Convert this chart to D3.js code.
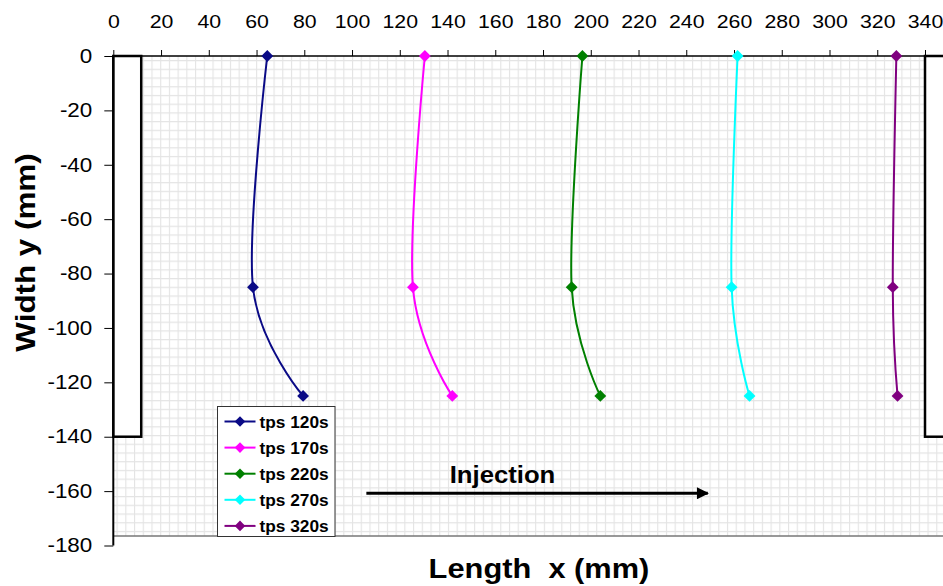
<!DOCTYPE html>
<html>
<head>
<meta charset="utf-8">
<script src="https://cdn.jsdelivr.net/npm/d3@7"></script>
<style>
  body { margin: 0; background: #fff; }
  text { font-family: Arial, "Liberation Sans", sans-serif; }
</style>
</head>
<body>
<svg id="chart" width="943" height="586"></svg>
<script>
// width positions (y, mm) shared by all curves
const widthY = [0, -85, -125];
// length positions (x, mm) of the front, one list per time
const front120 = [64.5, 58.5, 79.5];
const front170 = [130.5, 125.5, 142];
const front220 = [196.5, 192, 204];
const front270 = [261.5, 259, 266.5];
const front320 = [328, 326.5, 328.5];
const seriesNames = ["tps 120s", "tps 170s", "tps 220s", "tps 270s", "tps 320s"];
const seriesColors = ["#0a0a86", "#ff00ff", "#008000", "#00ffff", "#800080"];
const xTicks = [0, 20, 40, 60, 80, 100, 120, 140, 160, 180, 200, 220, 240, 260, 280, 300, 320, 340];
const yTicks = [0, -20, -40, -60, -80, -100, -120, -140, -160, -180];
// mould walls (x0, x1, y0, y1) and the injection arrow
const leftWall = [0, 11.7, 0, -140];
const rightWall = [340, 360, 0, -140];
const arrowX = [106, 249];
const arrowY = -160.8;

const fronts = [front120, front170, front220, front270, front320];

const svg = d3.select("#chart");

const x = d3.scaleLinear().domain([0, 340]).range([113.3, 925]);
const y = d3.scaleLinear().domain([0, -180]).range([56, 545.5]);

// the original text is a bit wider than Arial, stretch it
function stretch(sel, k) {
  sel.each(function() {
    const len = this.getComputedTextLength();
    d3.select(this)
      .attr("textLength", len * k)
      .attr("lengthAdjust", "spacingAndGlyphs");
  });
}

// grid pattern like the excel plot area fill
const defs = svg.append("defs");
const pat = defs.append("pattern")
    .attr("id", "grid")
    .attr("patternUnits", "userSpaceOnUse")
    .attr("width", 8.72)
    .attr("height", 8.72)
    .attr("x", 3.2)
    .attr("y", 7.7);
pat.append("rect").attr("width", 8.72).attr("height", 8.72).attr("fill", "#fff");
pat.append("path")
    .attr("d", "M0,0.4H8.72M0.4,0V8.72")
    .attr("stroke", "#e4e4e4")
    .attr("stroke-width", 1.4);

defs.append("marker")
    .attr("id", "arrow")
    .attr("viewBox", "0 0 10 10")
    .attr("refX", 9)
    .attr("refY", 5)
    .attr("markerUnits", "userSpaceOnUse")
    .attr("markerWidth", 14)
    .attr("markerHeight", 12)
    .attr("orient", "auto")
  .append("path")
    .attr("d", "M0,0L10,5L0,10z")
    .attr("fill", "#000");

svg.append("rect")
    .attr("x", 113.3)
    .attr("y", 56)
    .attr("width", 943 - 113.3)
    .attr("height", 536 - 56)
    .attr("fill", "url(#grid)");

svg.append("line")
    .attr("x1", 113.3).attr("x2", 943)
    .attr("y1", 536).attr("y2", 536)
    .attr("stroke", "#777")
    .attr("stroke-width", 1.5);

// walls
[leftWall, rightWall].forEach(w => {
  svg.append("rect")
      .attr("x", x(w[0]))
      .attr("y", y(w[2]))
      .attr("width", x(w[1]) - x(w[0]))
      .attr("height", y(w[3]) - y(w[2]))
      .attr("fill", "#fff")
      .attr("stroke", "#000")
      .attr("stroke-width", 2.5);
});

// axes
const xAxis = svg.append("g")
    .attr("transform", `translate(0,${y(0)})`)
    .call(d3.axisTop(x).tickValues(xTicks).tickSize(6).tickPadding(22).tickFormat(d => String(d)));
xAxis.select(".domain").attr("stroke", "#000").attr("stroke-width", 1.5).attr("d", `M${x(0)},0H${x(340)}`);
xAxis.selectAll("text").attr("font-size", 19).attr("fill", "#000").call(stretch, 1.12);

const yAxis = svg.append("g")
    .attr("transform", `translate(${x(0)},0)`)
    .call(d3.axisLeft(y).tickValues(yTicks).tickSize(9).tickPadding(12).tickFormat(d => String(d)));
yAxis.select(".domain").attr("stroke", "#000").attr("stroke-width", 2).attr("d", `M0,${y(0)}V${y(-180)}`);
yAxis.selectAll("text").attr("font-size", 19.5).attr("fill", "#000").call(stretch, 1.15);

// curves
const line = d3.line()
    .x(d => x(d[0]))
    .y(d => y(d[1]))
    .curve(d3.curveCardinal);

const diamond = d3.symbol(d3.symbolSquare, 70);
const smallDiamond = d3.symbol(d3.symbolSquare, 56);

fronts.forEach((f, i) => {
  const pts = f.map((v, j) => [v, widthY[j]]);
  svg.append("path")
      .attr("d", line(pts))
      .attr("fill", "none")
      .attr("stroke", seriesColors[i])
      .attr("stroke-width", 2);
  svg.selectAll(null)
      .data(pts)
      .enter().append("path")
      .attr("d", diamond)
      .attr("transform", d => `translate(${x(d[0])},${y(d[1])}) rotate(45)`)
      .attr("fill", seriesColors[i]);
});

// injection arrow
svg.append("line")
    .attr("x1", x(arrowX[0])).attr("x2", x(arrowX[1]))
    .attr("y1", y(arrowY)).attr("y2", y(arrowY))
    .attr("stroke", "#000")
    .attr("stroke-width", 3)
    .attr("marker-end", "url(#arrow)");
svg.append("text")
    .attr("x", 502.5)
    .attr("y", 482.5)
    .attr("text-anchor", "middle")
    .attr("font-size", 24)
    .attr("font-weight", "bold")
    .text("Injection")
    .call(stretch, 1.07);

// legend
const legend = svg.append("g").attr("transform", "translate(217.5,406.5)");
legend.append("rect")
    .attr("width", 117.5)
    .attr("height", 130)
    .attr("fill", "#fff")
    .attr("stroke", "#333")
    .attr("stroke-width", 1);
seriesNames.forEach((name, i) => {
  const g = legend.append("g").attr("transform", `translate(0,${15 + i * 26.1})`);
  g.append("line")
      .attr("x1", 7).attr("x2", 38)
      .attr("stroke", seriesColors[i])
      .attr("stroke-width", 2);
  g.append("path")
      .attr("d", smallDiamond)
      .attr("transform", "translate(22.5,0) rotate(45)")
      .attr("fill", seriesColors[i]);
  g.append("text")
      .attr("x", 42)
      .attr("y", 6)
      .attr("font-size", 16)
      .attr("font-weight", "bold")
      .text(name)
      .call(stretch, 1.08);
});

// axis titles
svg.append("text")
    .attr("x", 539)
    .attr("y", 578)
    .attr("text-anchor", "middle")
    .attr("font-size", 28)
    .attr("font-weight", "bold")
    .attr("xml:space", "preserve")
    .text("Length  x (mm)")
    .call(stretch, 1.1);

svg.append("text")
    .attr("transform", "translate(35,252.5) rotate(-90)")
    .attr("text-anchor", "middle")
    .attr("font-size", 28)
    .attr("font-weight", "bold")
    .text("Width y (mm)")
    .call(stretch, 1.12);
</script>
</body>
</html>
